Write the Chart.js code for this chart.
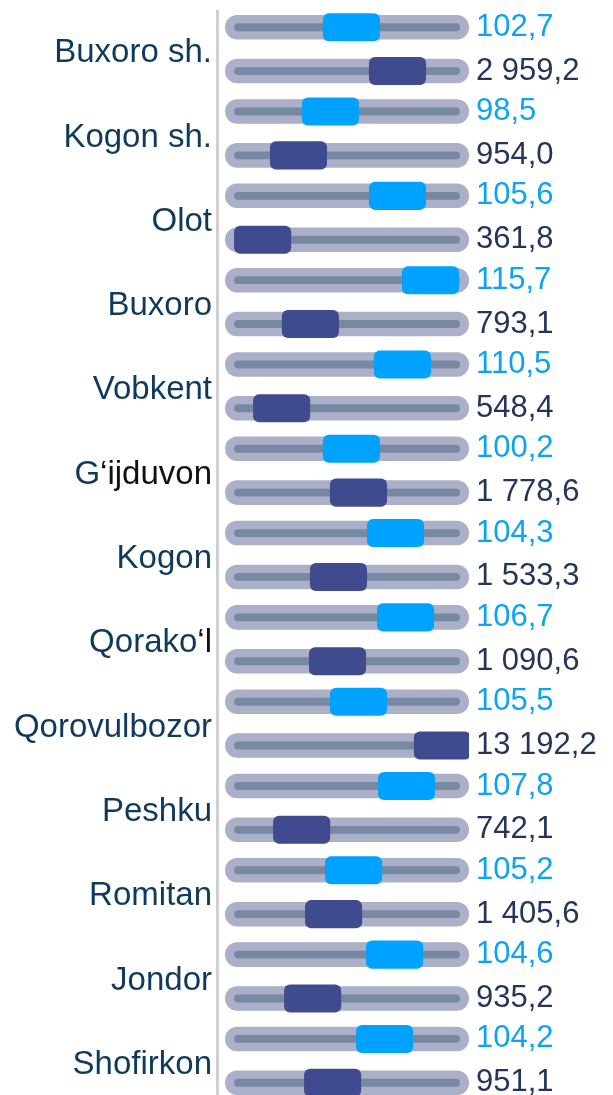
<!DOCTYPE html>
<html>
<head>
<meta charset="utf-8">
<script src="https://cdn.jsdelivr.net/npm/chart.js@4.4.1/dist/chart.umd.min.js"></script>
<style>
  html, body { margin: 0; padding: 0; background: #fff; overflow: hidden; }
  #wrap { width: 613px; height: 1095px; overflow: hidden; }
</style>
</head>
<body>
<div id="wrap"><canvas id="slidersChart" width="613" height="1104"></canvas></div>
<script>
// tumanlar
const tumanlar = ['Buxoro sh.', 'Kogon sh.', 'Olot', 'Buxoro', 'Vobkent', 'G‘ijduvon', 'Kogon',
    'Qorako‘l', 'Qorovulbozor', 'Peshku', 'Romitan', 'Jondor', 'Shofirkon'];

// yuqori qator (foizda) va pastki qator qiymatlari
const osishSuratlari = [102.7, 98.5, 105.6, 115.7, 110.5, 100.2, 104.3, 106.7, 105.5, 107.8, 105.2, 104.6, 104.2];
const hajmlar = [2959.2, 954.0, 361.8, 793.1, 548.4, 1778.6, 1533.3, 1090.6, 13192.2, 742.1, 1405.6, 935.2, 951.1];

// slayder tugmalari joyi (chiziq bo'yicha %, rasmdan o'qilgan)
const tugmaYuqori = [51.8, 43.2, 70.7, 84.2, 72.7, 51.8, 69.9, 74.0, 54.7, 74.4, 52.7, 69.5, 65.4];
const tugmaPastki = [70.7, 30.1, 15.4, 35.0, 23.2, 54.7, 46.5, 46.1, 89.1, 31.4, 44.5, 35.9, 44.1];

const TUGMA_YARIM = 11.7;
const rangTrek = '#abafc7';
const rangIchki = '#7788a3';
const rangOch = '#00a2ff';
const rangTuq = '#404a8f';

function formatla(v) {
    const [butun, kasr] = v.toFixed(1).split('.');
    return butun.replace(/\B(?=(\d{3})+(?!\d))/g, ' ') + ',' + kasr;
}

const trekData = tumanlar.map(() => [0, 100]);
const ichkiData = tumanlar.map(() => [3.7, 96.3]);

const chiziqVaYozuvlar = {
    id: 'chiziqVaYozuvlar',
    beforeDatasetsDraw(chart) {
        const c = chart.ctx;
        c.save();
        c.strokeStyle = '#d0d0d0';
        c.lineWidth = 3;
        c.beginPath();
        c.moveTo(217.5, 10);
        c.lineTo(217.5, chart.height);
        c.stroke();
        c.restore();
    },
    afterDatasetsDraw(chart) {
        const c = chart.ctx;
        const y = chart.scales.y;
        const x = chart.scales.x;
        c.save();
        // tuman nomlari
        c.font = '33px "Liberation Sans", Arial, sans-serif';
        c.textBaseline = 'middle';
        c.textAlign = 'left';
        tumanlar.forEach((nom, i) => {
            const py = y.getPixelForValue(i) + 4;
            const k = nom.indexOf('‘');
            const bosh = k >= 0 ? nom.slice(0, k) : nom;
            const oxir = k >= 0 ? nom.slice(k) : '';
            const w = c.measureText(bosh).width + c.measureText(oxir).width;
            let px = 212 - w;
            c.fillStyle = '#0f3a5c';
            c.fillText(bosh, px, py);
            px += c.measureText(bosh).width;
            c.fillStyle = '#111111';
            c.fillText(oxir, px, py);
        });
        // qiymatlar
        c.font = '31px "Liberation Sans", Arial, sans-serif';
        const xo = x.getPixelForValue(100) + 7;
        const metaA = chart.getDatasetMeta(0);
        const metaB = chart.getDatasetMeta(1);
        osishSuratlari.forEach((v, i) => {
            c.fillStyle = '#0ea2f2';
            c.fillText(formatla(v), xo, metaA.data[i].y);
        });
        hajmlar.forEach((v, i) => {
            c.fillStyle = '#24345a';
            c.fillText(formatla(v), xo, metaB.data[i].y);
        });
        c.restore();
    }
};

const ctx = document.getElementById('slidersChart').getContext('2d');
new Chart(ctx, {
    type: 'bar',
    data: {
        labels: tumanlar,
        datasets: [
            { data: trekData, stack: 'a', order: 3, backgroundColor: rangTrek, barPercentage: 0.56, borderRadius: 12, borderSkipped: false },
            { data: trekData, stack: 'b', order: 3, backgroundColor: rangTrek, barPercentage: 0.56, borderRadius: 12, borderSkipped: false },
            { data: ichkiData, stack: 'a', order: 2, backgroundColor: rangIchki, barPercentage: 0.18, borderRadius: 4, borderSkipped: false },
            { data: ichkiData, stack: 'b', order: 2, backgroundColor: rangIchki, barPercentage: 0.18, borderRadius: 4, borderSkipped: false },
            { data: tugmaYuqori.map(p => [p - TUGMA_YARIM, p + TUGMA_YARIM]), stack: 'a', order: 1, backgroundColor: rangOch, barPercentage: 0.64, borderRadius: 6, borderSkipped: false },
            { data: tugmaPastki.map(p => [p - TUGMA_YARIM, p + TUGMA_YARIM]), stack: 'b', order: 1, backgroundColor: rangTuq, barPercentage: 0.64, borderRadius: 6, borderSkipped: false }
        ]
    },
    options: {
        indexAxis: 'y',
        responsive: false,
        animation: false,
        categoryPercentage: 1.04,
        layout: { padding: { left: 217, right: 144, top: 7, bottom: 1 } },
        scales: {
            x: { type: 'linear', min: -3.3, max: 100, stacked: false, display: false },
            y: { display: false }
        },
        plugins: {
            legend: { display: false },
            tooltip: { enabled: false }
        }
    },
    plugins: [chiziqVaYozuvlar]
});
</script>
</body>
</html>
